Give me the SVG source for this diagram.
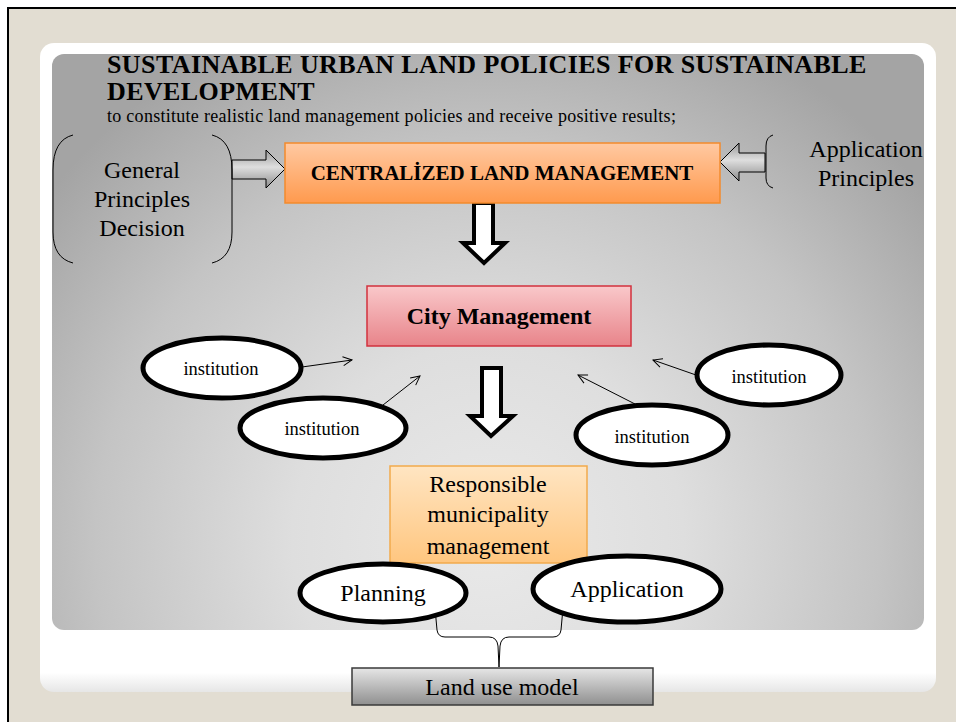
<svg xmlns="http://www.w3.org/2000/svg" width="956" height="722" viewBox="0 0 956 722">
<defs>
  <radialGradient id="panelGrad" gradientUnits="userSpaceOnUse" cx="488" cy="540" r="560" fx="488" fy="540">
    <stop offset="0" stop-color="#e9e9e9"/>
    <stop offset="0.35" stop-color="#dedede"/>
    <stop offset="0.7" stop-color="#c4c4c4"/>
    <stop offset="1" stop-color="#a4a4a4"/>
  </radialGradient>
  <linearGradient id="whiteGrad" x1="0" y1="0" x2="0" y2="1">
    <stop offset="0.97" stop-color="#ffffff"/>
    <stop offset="1" stop-color="#e6e6e6"/>
  </linearGradient>
  <linearGradient id="orangeGrad" x1="0" y1="0" x2="0" y2="1">
    <stop offset="0" stop-color="#ffc9a2"/>
    <stop offset="1" stop-color="#ff9a4e"/>
  </linearGradient>
  <linearGradient id="pinkGrad" x1="0" y1="0" x2="0" y2="1">
    <stop offset="0" stop-color="#f9c8ca"/>
    <stop offset="1" stop-color="#e8848a"/>
  </linearGradient>
  <linearGradient id="peachGrad" x1="0" y1="0" x2="0" y2="1">
    <stop offset="0" stop-color="#ffe5c2"/>
    <stop offset="1" stop-color="#ffc67f"/>
  </linearGradient>
  <linearGradient id="grayBoxGrad" x1="0" y1="0" x2="0" y2="1">
    <stop offset="0" stop-color="#e6e6e6"/>
    <stop offset="1" stop-color="#8f8f8f"/>
  </linearGradient>
  <linearGradient id="arrowGrad" x1="0" y1="0" x2="0" y2="1">
    <stop offset="0" stop-color="#9a9a9a"/>
    <stop offset="0.45" stop-color="#dedede"/>
    <stop offset="1" stop-color="#8c8c8c"/>
  </linearGradient>
  <marker id="openArrow" markerWidth="12" markerHeight="12" refX="10" refY="6" orient="auto" markerUnits="userSpaceOnUse">
    <polyline points="1,1.5 10,6 1,10.5" fill="none" stroke="#000" stroke-width="1"/>
  </marker>
  <style>
    .serif { font-family: "Liberation Serif", "Times New Roman", serif; fill: #000; }
    .bold { font-weight: bold; }
    .title { font-size: 26px; letter-spacing: 0.4px; }
    .inst { font-size: 18.5px; }
    .oval { fill: #ffffff; stroke: #000; stroke-width: 5; }
    .thin { fill: none; stroke: #000; stroke-width: 1; }
    .block { fill: #ffffff; stroke: #000; stroke-width: 4; stroke-linejoin: miter; }
    .harrow { fill: url(#arrowGrad); stroke: #000; stroke-width: 1; }
  </style>
</defs>

<!-- background -->
<rect x="0" y="0" width="956" height="722" fill="#ffffff"/>
<rect x="8" y="8" width="948" height="714" fill="#e2ddd2"/>
<path d="M8,722 L8,8 L956,8" fill="none" stroke="#000" stroke-width="2"/>
<rect x="40" y="43" width="896" height="649" rx="14" fill="url(#whiteGrad)"/>
<rect x="52" y="54" width="872" height="576" rx="12" fill="url(#panelGrad)"/>

<!-- title -->
<g id="title">
  <text class="serif bold title" x="107" y="73">SUSTAINABLE URBAN LAND POLICIES FOR SUSTAINABLE</text>
  <text class="serif bold title" x="107" y="100">DEVELOPMENT</text>
  <text class="serif" x="107" y="122" font-size="18" letter-spacing="0.28">to constitute realistic land management policies and receive positive results;</text>
</g>

<!-- connectors -->
<g id="connectors">
  <polygon class="harrow" points="232,160 266,160 266,150 285,169 266,188 266,179 232,179"/>
  <polygon class="harrow" points="765,153 739,153 739,143 720,162 739,181 739,172 765,172"/>
  <polygon class="block" points="474,203 493,203 493,243 505,243 484,263 463,243 474,243"/>
  <polygon class="block" points="482,368 501,368 501,416 513,416 491,436 470,416 482,416"/>
  <line class="thin" x1="302" y1="367" x2="352" y2="360" marker-end="url(#openArrow)"/>
  <line class="thin" x1="383" y1="405" x2="420" y2="376" marker-end="url(#openArrow)"/>
  <line class="thin" x1="696" y1="375" x2="653" y2="360" marker-end="url(#openArrow)"/>
  <line class="thin" x1="635" y1="404" x2="578" y2="375" marker-end="url(#openArrow)"/>
  <path class="thin" d="M435,608 L437,630 Q438,637 445,637 L489,637 Q497,637 498,646 L499,667"/>
  <path class="thin" d="M563,608 L561,630 Q560,637 553,637 L509,637 Q501,637 500,646 L499,667"/>
</g>

<!-- nodes -->
<g id="general-principles">
  <path class="thin" d="M73,135 Q53,140 53,170 L53,232 Q53,258 73,263"/>
  <path class="thin" d="M212,135 Q232,140 232,170 L232,232 Q232,258 212,263"/>
  <text class="serif" x="142" y="178" font-size="24" text-anchor="middle">General</text>
  <text class="serif" x="142" y="207" font-size="24" text-anchor="middle">Principles</text>
  <text class="serif" x="142" y="236" font-size="24" text-anchor="middle">Decision</text>
</g>

<g id="application-principles">
  <path class="thin" d="M773,135 Q766,137 766,146 L766,178 Q766,186 773,188"/>
  <text class="serif" x="866" y="157" font-size="24" text-anchor="middle">Application</text>
  <text class="serif" x="866" y="186" font-size="24" text-anchor="middle">Principles</text>
</g>

<g id="centralized">
  <rect x="285" y="143" width="435" height="60" fill="url(#orangeGrad)" stroke="#f38b2c" stroke-width="1.5"/>
  <text class="serif bold" x="502" y="180" font-size="21" text-anchor="middle">CENTRALİZED LAND MANAGEMENT</text>
</g>

<g id="city-management">
  <rect x="367" y="286" width="264" height="60" fill="url(#pinkGrad)" stroke="#d2323e" stroke-width="1.5"/>
  <text class="serif bold" x="499" y="324" font-size="24" text-anchor="middle">City Management</text>
</g>

<g id="institution-1">
  <ellipse class="oval" cx="222" cy="368" rx="79" ry="30"/>
  <text class="serif inst" x="221" y="375" text-anchor="middle">institution</text>
</g>
<g id="institution-2">
  <ellipse class="oval" cx="323" cy="428" rx="83" ry="30"/>
  <text class="serif inst" x="322" y="435" text-anchor="middle">institution</text>
</g>
<g id="institution-3">
  <ellipse class="oval" cx="769" cy="375" rx="72" ry="30"/>
  <text class="serif inst" x="769" y="383" text-anchor="middle">institution</text>
</g>
<g id="institution-4">
  <ellipse class="oval" cx="652" cy="435" rx="76" ry="30"/>
  <text class="serif inst" x="652" y="443" text-anchor="middle">institution</text>
</g>

<g id="responsible">
  <rect x="390" y="466" width="197" height="97" fill="url(#peachGrad)" stroke="#f2aa4c" stroke-width="1.5"/>
  <text class="serif" x="488" y="492" font-size="24" text-anchor="middle">Responsible</text>
  <text class="serif" x="488" y="522" font-size="24" text-anchor="middle">municipality</text>
  <text class="serif" x="488" y="554" font-size="24" text-anchor="middle">management</text>
</g>

<g id="planning">
  <ellipse class="oval" cx="383" cy="593" rx="83" ry="29"/>
  <text class="serif" x="383" y="601" font-size="24" text-anchor="middle">Planning</text>
</g>

<g id="application">
  <ellipse class="oval" cx="627" cy="589" rx="94" ry="33"/>
  <text class="serif" x="627" y="597" font-size="24" text-anchor="middle">Application</text>
</g>

<g id="land-use-model">
  <rect x="352" y="668" width="301" height="37" fill="url(#grayBoxGrad)" stroke="#3a3a3a" stroke-width="1.5"/>
  <text class="serif" x="502" y="695" font-size="24" text-anchor="middle">Land use model</text>
</g>
</svg>
